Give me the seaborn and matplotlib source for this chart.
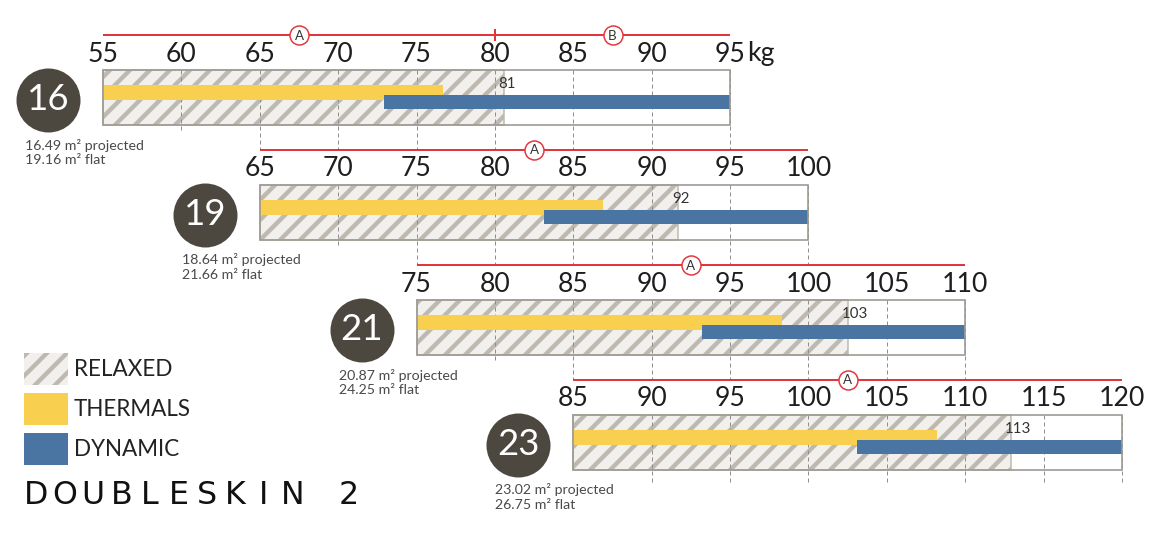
import numpy as np
import pandas as pd
import seaborn as sns
import matplotlib.pyplot as plt
from matplotlib.patches import Patch

# === Datos ===
sizes = ["16", "19", "21", "23"]
area_projected = ["16.49", "18.64", "20.87", "23.02"]
area_flat = ["19.16", "21.66", "24.25", "26.75"]
range_min = [55, 65, 75, 85]
range_max = [95, 100, 110, 120]
relaxed_max = [80.6, 91.7, 102.5, 112.9]
relaxed_label = ["81", "92", "103", "113"]
thermals_max = [76.7, 86.9, 98.3, 108.2]
dynamic_min = [72.9, 83.1, 93.2, 103.1]

# homologación por talla
cert_size = ["16", "16", "19", "21", "23"]
cert_class = ["A", "B", "A", "A", "A"]
cert_from = [55, 80, 65, 75, 85]
cert_to = [80, 95, 100, 110, 120]

legend_labels = ["RELAXED", "THERMALS", "DYNAMIC"]
logo_word = "DOUBLESKIN"
logo_num = "2"

# === Estilo / layout ===
W, H, DPI = 1164, 537, 120
KG_PX = (1122 - 103) / 65          # px por kg
X_LEFT = 55 - 103 / KG_PX
ROW0, STEP, BOX_H = 70, 115, 55

YELLOW = "#F9CF4F"
BLUE = "#4A74A2"
RELAX_FACE = "#F2F0EC"
RELAX_HATCH = "#BDB9B1"
BOX_EDGE = "#9E9A93"
RED = "#E2363C"
DARK = "#4D483F"
GRID = "#8F8F8F"

sns.set_theme(style="white")
plt.rcParams["font.family"] = ["Lato", "DejaVu Sans"]
plt.rcParams["hatch.linewidth"] = 2.6


def px2kg(p):
    return X_LEFT + p / KG_PX


def row_top(i):
    return ROW0 + STEP * i


fig = plt.figure(figsize=(W / DPI, H / DPI), dpi=DPI)
ax = fig.add_axes([0, 0, 1, 1])


def seg_bars(start, end, yoff, height_px, **kw):
    d = pd.DataFrame({
        "start": start,
        "length": np.subtract(end, start),
        "y": [row_top(i) + yoff for i in range(len(start))],
    })
    sns.barplot(data=d, x="length", y="y", orient="y", native_scale=True,
                left=d["start"].to_numpy(), width=height_px / STEP,
                errorbar=None, saturation=1, ax=ax, **kw)


# caja blanca, zona relaxed, thermals, dynamic, contorno
seg_bars(range_min, range_max, BOX_H / 2, BOX_H, color="white",
         edgecolor="white", linewidth=0, zorder=1)
seg_bars(range_min, relaxed_max, BOX_H / 2, BOX_H, color=RELAX_FACE,
         edgecolor=RELAX_HATCH, hatch="//", linewidth=0.9, zorder=2)
seg_bars(range_min, thermals_max, 22.5, 15, color=YELLOW,
         edgecolor=YELLOW, linewidth=0, zorder=4)
seg_bars(dynamic_min, range_max, 32, 14, color=BLUE,
         edgecolor=BLUE, linewidth=0, zorder=5)
seg_bars(range_min, range_max, BOX_H / 2, BOX_H, color=BOX_EDGE,
         facecolor="none", edgecolor=BOX_EDGE, linewidth=1.0, zorder=6)

for i, s in enumerate(sizes):
    top = row_top(i)
    lo, hi = range_min[i], range_max[i]
    ticks = np.arange(lo, hi + 1, 5)

    # etiquetas del eje en kg
    for v in ticks:
        ax.text(v, top - 16, str(v), ha="center", va="center",
                fontsize=16, color="#1E1E1E")
    if i == 0:
        ax.text(hi + 1.1, top - 16, "kg", ha="left", va="center",
                fontsize=16, color="#1E1E1E")

    # líneas discontinuas
    for v in ticks[1:]:
        if i < len(sizes) - 1 and range_min[i + 1] <= v <= range_max[i + 1]:
            y1 = row_top(i + 1) - 35
        elif i == len(sizes) - 1:
            y1 = top + BOX_H + 12
        else:
            y1 = top + BOX_H + 6
        ax.vlines(v, top, y1, colors=GRID, linewidth=0.6,
                  linestyles=(0, (4, 3)), zorder=3)

    # valor máximo relaxed
    ax.text(relaxed_max[i] - 0.4, top + 14, relaxed_label[i], ha="left",
            va="center", fontsize=9, color="#333333", zorder=7)

    # círculo con la talla
    cx = lo - 55 / KG_PX
    cy = top + BOX_H / 2 + 2
    ax.scatter([cx], [cy], s=1475, color=DARK, linewidth=0, zorder=5)
    ax.text(cx, cy, s, ha="center", va="center", fontsize=22,
            color="white", zorder=6)
    ax.text(cx - 23 / KG_PX, top + BOX_H + 20, f"{area_projected[i]} m² projected",
            ha="left", va="center", fontsize=8.5, color="#4A4A4A")
    ax.text(cx - 23 / KG_PX, top + BOX_H + 35, f"{area_flat[i]} m² flat",
            ha="left", va="center", fontsize=8.5, color="#4A4A4A")

# líneas de homologación
for s, c, a, b in zip(cert_size, cert_class, cert_from, cert_to):
    i = sizes.index(s)
    y = row_top(i) - 35
    ax.hlines(y, a, b, colors=RED, linewidth=1.2, zorder=4)
    if a != range_min[i]:
        ax.vlines(a, y - 6, y + 6, colors=RED, linewidth=1.2, zorder=4)
    mid = (a + b) / 2
    ax.scatter([mid], [y], s=130, facecolor="white", edgecolor=RED,
               linewidth=0.9, zorder=5)
    ax.text(mid, y + 0.5, c, ha="center", va="center", fontsize=8,
            color="#333333", zorder=6)

# leyenda
handles = [
    Patch(facecolor=RELAX_FACE, edgecolor=RELAX_HATCH, hatch="//", linewidth=0),
    Patch(facecolor=YELLOW, edgecolor=YELLOW, linewidth=0),
    Patch(facecolor=BLUE, edgecolor=BLUE, linewidth=0),
]
fig.legend(handles, legend_labels, loc="upper left",
           bbox_to_anchor=(24 / W, 1 - 353 / H), frameon=False,
           fontsize=13.5, handlelength=1.95, handleheight=1.8,
           handletextpad=0.25, labelspacing=0.36, borderpad=0,
           borderaxespad=0, labelcolor="#222222")

# logo (letras espaciadas)
for k, ch in enumerate(logo_word):
    ax.text(px2kg(36 + 28.5 * k), 496, ch, ha="center", va="center",
            fontsize=19, color="#111111", family="DejaVu Sans")
ax.text(px2kg(349), 496, logo_num, ha="center", va="center",
        fontsize=19, color="#111111", family="DejaVu Sans")

ax.set_xlim(X_LEFT, X_LEFT + W / KG_PX)
ax.set_ylim(H, 0)
ax.axis("off")

fig.savefig("out.png", dpi=DPI)
